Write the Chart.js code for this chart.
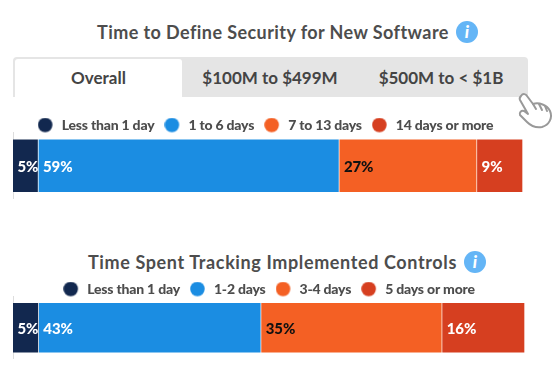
<!DOCTYPE html>
<html>
<head>
<meta charset="utf-8">
<script src="https://cdn.jsdelivr.net/npm/chart.js@4"></script>
<style>
    body { margin: 0; background: #fff; font-family: Lato, sans-serif; }
    #page { position: relative; width: 560px; height: 386px; overflow: hidden; }
    .title { position: absolute; font-size: 18px; font-weight: 700; color: #4d4d4d; white-space: nowrap; line-height: 22px; }
    .info { position: absolute; width: 22px; height: 22px; border-radius: 50%; background: #64b5f6; color: #fff; font: italic 900 17px/22px Lato; text-align: center; }
    #tabs { position: absolute; left: 13px; top: 57px; width: 515px; height: 40px; background: #e5e5e5; border-radius: 4px 4px 0 0; }
    .tab { position: absolute; top: 2px; height: 38px; line-height: 38px; text-align: center; font-size: 17px; font-weight: 700; color: #444; white-space: nowrap; }
    .tab.active { background: #fff; border-radius: 3px 3px 0 0; }
    canvas { position: absolute; left: 0; }
    #hand { position: absolute; left: 517px; top: 90px; }
</style>
</head>
<body>
<div id="page">
    <div class="title" style="left:97px;top:21px;letter-spacing:0.42px">Time to Define Security for New Software</div>
    <div class="info" style="left:456px;top:21px">i</div>
    <div id="tabs"></div>
    <svg id="hand" width="38" height="40" viewBox="0 0 38 40">
        <path d="M4 6 C6 3 9 4 10 6 L16 14 C22 12 30 15 33 21 C36 28 32 35 25 37 C19 38 14 36 10 32 L3 25 C2 23 4 20 7 21 L11 24 L3 10 C2 8 3 7 4 6 Z" fill="#fff" stroke="#999" stroke-width="2" stroke-linejoin="round"/>
        <path d="M16 14 L19 19 M22 14 L25 20 M28 16 L30 21" fill="none" stroke="#999" stroke-width="2" stroke-linecap="round"/>
    </svg>
    <canvas id="chart1" width="560" height="91" style="top:108px;width:560px;height:91px"></canvas>
    <div class="title" style="left:88px;top:251px;letter-spacing:0.62px">Time Spent Tracking Implemented Controls</div>
    <div class="info" style="left:464px;top:251px">i</div>
    <canvas id="chart2" width="560" height="87" style="top:272px;width:560px;height:87px"></canvas>
</div>

<script>
const tabNames = ['Overall', '$100M to $499M', '$500M to < $1B'];
const tabLefts = [2, 172, 341];
const tabWidths = [167, 170, 174];

const softwareLabels = ['Less than 1 day', '1 to 6 days', '7 to 13 days', '14 days or more'];
const softwareValues = [5, 59, 27, 9];

const trackingLabels = ['Less than 1 day', '1-2 days', '3-4 days', '5 days or more'];
const trackingValues = [5, 43, 35, 16];

const barColors = ['#12284f', '#1b8de2', '#f46024', '#d63f20'];
const textColors = ['#fff', '#fff', '#111', '#fff'];

tabNames.forEach((name, i) => {
    const tab = document.createElement('div');
    tab.className = i === 0 ? 'tab active' : 'tab';
    tab.textContent = name;
    tab.style.left = tabLefts[i] + 'px';
    tab.style.width = tabWidths[i] + 'px';
    document.querySelector('#tabs').appendChild(tab);
});

// round legend marker, with some room on its right before the text
function makeDot(color) {
    const c = document.createElement('canvas');
    c.width = 17;
    c.height = 15;
    const ctx = c.getContext('2d');
    ctx.fillStyle = color;
    ctx.beginPath();
    ctx.arc(7.5, 7.5, 7.25, 0, Math.PI * 2);
    ctx.fill();
    return c;
}

const dots = barColors.map(makeDot);

const legendTweaks = {
    id: 'legendTweaks',
    // the legend leaves too much room under itself, take some back
    beforeInit(chart) {
        const fit = chart.legend.fit;
        chart.legend.fit = function () {
            fit.call(this);
            this.height -= 9.5;
        };
    },
    beforeLayout(chart) { chart.ctx.letterSpacing = '-0.2px'; },
    afterLayout(chart, args, opts) {
        chart.legend.left -= opts.shift;
        chart.legend.right -= opts.shift;
    },
    beforeDraw(chart) { chart.ctx.letterSpacing = '-0.2px'; }
};

const percentLabels = {
    id: 'percentLabels',
    afterDatasetsDraw(chart) {
        const ctx = chart.ctx;
        ctx.save();
        ctx.letterSpacing = '-0.1px';
        ctx.font = '900 15px Lato';
        ctx.textBaseline = 'middle';
        chart.data.datasets.forEach((ds, i) => {
            const bar = chart.getDatasetMeta(i).data[0];
            ctx.fillStyle = textColors[i];
            ctx.fillText(ds.data[0] + '%', bar.base + 4.5, bar.y + 1);
        });
        ctx.restore();
    }
};

function drawBar(id, labels, values, axisMax, rightPad, barSize, legendShift) {
    const data = {
        labels: [''],
        datasets: labels.map((label, i) => ({
            label: label,
            data: [values[i]],
            backgroundColor: barColors[i],
            borderColor: 'rgba(255,255,255,0.15)',
            borderWidth: 1,
            barThickness: barSize,
            pointStyle: dots[i]
        }))
    };

    const config = {
        type: 'bar',
        data,
        options: {
            indexAxis: 'y',
            responsive: false,
            animation: false,
            layout: { padding: { left: 13, right: rightPad } },
            scales: {
                x: { stacked: true, display: false, min: 0, max: axisMax },
                y: {
                    stacked: true,
                    afterFit(axis) { axis.width = 0; },
                    grid: { display: false, drawTicks: false },
                    border: { color: '#ddd' },
                    ticks: { display: false }
                }
            },
            plugins: {
                tooltip: { enabled: false },
                legendTweaks: { shift: legendShift },
                legend: {
                    position: 'top',
                    labels: {
                        usePointStyle: true,
                        pointStyleWidth: 17,
                        boxHeight: 15,
                        padding: 10,
                        color: '#4d4d4d',
                        font: { family: 'Lato', size: 14, weight: '900' }
                    }
                }
            }
        },
        plugins: [legendTweaks, percentLabels]
    };

    return new Chart(document.querySelector(id), config);
}

drawBar('#chart1', softwareLabels, softwareValues, 100, 37, 54, 2.5);
drawBar('#chart2', trackingLabels, trackingValues, 99, 35, 51, 0);
</script>
</body>
</html>
